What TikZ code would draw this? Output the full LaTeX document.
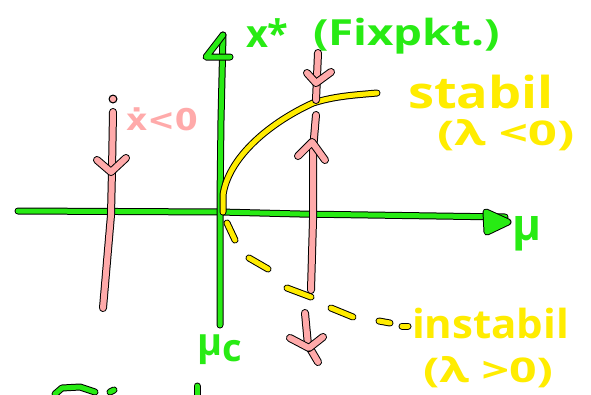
\documentclass[tikz,border=0pt]{standalone}
\usepackage{fontspec}
\setmainfont{Open Sans}
\newfontfamily\dvs{DejaVu Sans}
\definecolor{pgreen}{RGB}{40,235,20}
\definecolor{pyellow}{RGB}{255,236,0}
\definecolor{ppink}{RGB}{255,170,170}
\begin{document}
\begin{tikzpicture}[x=1pt,y=-1pt, line cap=round, line join=round,
  pen/.style={draw=#1, line width=5pt, preaction={draw=black, line width=7pt}},
  ppen/.style={draw=ppink, line width=6pt, preaction={draw=black, line width=8pt}},
  lbl/.style={anchor=base west, inner sep=0pt, outer sep=0pt}]
\useasboundingbox[fill=white] (0,0) rectangle (591,394);

% axes
\coordinate (hL) at (18,211);
\coordinate (hR) at (505,217);
\coordinate (vB) at (220,325);
\coordinate (vT) at (223,35);
\draw[pen=pgreen] (hL) -- (220,212) -- (300,214) -- (hR);
\draw[pen=pgreen, fill=pgreen] (486,212) -- (508,222) -- (487,232) -- cycle;
\draw[pen=pgreen] (vB) -- (220,200) -- (221,120) -- (vT);
\draw[pen=pgreen] (230,57) -- (206,57) -- (vT);

% stable branch
\coordinate (s0) at (223,212);
\coordinate (s1) at (377,93);
\draw[pen=pyellow] (s0) -- (223,195) .. controls (228,160) and (265,125) .. (313,103)
  .. controls (335,96) and (355,95) .. (s1);

% unstable branch (dashed by hand)
\draw[pen=pyellow] (227,223) -- (235,240);
\draw[pen=pyellow] (249,258) -- (268,269);
\draw[pen=pyellow] (287,288) -- (311,297);
\draw[pen=pyellow] (331,308) -- (353,317);
\draw[pen=pyellow] (379,321) -- (390,323);
\draw[pen=pyellow] (402,326) -- (408,326);

% pink flow arrows, right
\coordinate (r1) at (318,53);
\coordinate (r2) at (316,100);
\draw[ppen] (r1) -- (r2);
\draw[ppen] (307,73) -- (316,83) -- (331,72);
\coordinate (r3) at (316,115);
\coordinate (r4) at (311,290);
\draw[ppen] (r3) -- (313,150) -- (313,220) -- (r4);
\draw[ppen] (298,156) -- (312,142) -- (325,160);
\coordinate (r5) at (305,313);
\coordinate (r6) at (318,362);
\draw[ppen] (r5) -- (308,345) -- (r6);
\draw[ppen] (290,338) -- (309,348) -- (323,337);

% pink flow arrow, left
\coordinate (l0) at (113,99);
\coordinate (l1) at (113,112);
\coordinate (l2) at (103,308);
\fill[black] (l0) circle (4.5pt);
\fill[ppink] (l0) circle (3.2pt);
\draw[ppen] (l1) -- (112,170) -- (111,215) -- (l2);
\draw[ppen] (97,160) -- (111,172) -- (126,158);

% labels
\node[lbl, text=pgreen, font=\bfseries\fontsize{38}{40}\selectfont] (xs) at (246,47) {x*};
\node[lbl, text=pgreen, font=\bfseries\fontsize{36}{40}\selectfont, xscale=1.27] (fp) at (313,45) {(Fixpkt.)};
\node[lbl, text=pyellow, font=\bfseries\fontsize{44}{48}\selectfont, xscale=1.19] (st) at (408,108) {stabil};
\node[lbl, text=pyellow, font=\bfseries\fontsize{34}{40}\selectfont, xscale=1.5] (stl) at (437,145) {(λ <0)};
\node[lbl, text=pyellow, font=\bfseries\fontsize{40}{44}\selectfont, xscale=1.05] (in) at (412,338) {instabil};
\node[lbl, text=pyellow, font=\bfseries\fontsize{34}{40}\selectfont, xscale=1.42] (inl) at (423,382) {(λ >0)};
\node[lbl, text=pgreen, font=\bfseries\fontsize{44}{48}\selectfont] (mu) at (512,240) {μ};
\node[lbl, text=pgreen, font=\bfseries\fontsize{38}{40}\selectfont] (muc) at (197,355) {μ\raisebox{-6pt}{c}};
\node[lbl, text=ppink, font=\dvs\bfseries\fontsize{30}{34}\selectfont, xscale=1.1] (xd) at (126,130) {ẋ<0};

% cut-off fragments at the bottom edge
\draw[pen=pgreen] (55,394) -- (62,388) -- (80,387) -- (95,392);
\draw[pen=pgreen] (110,392) -- (114,390);
\draw[pen=pgreen] (197,386) -- (197,398);
\end{tikzpicture}
\end{document}
